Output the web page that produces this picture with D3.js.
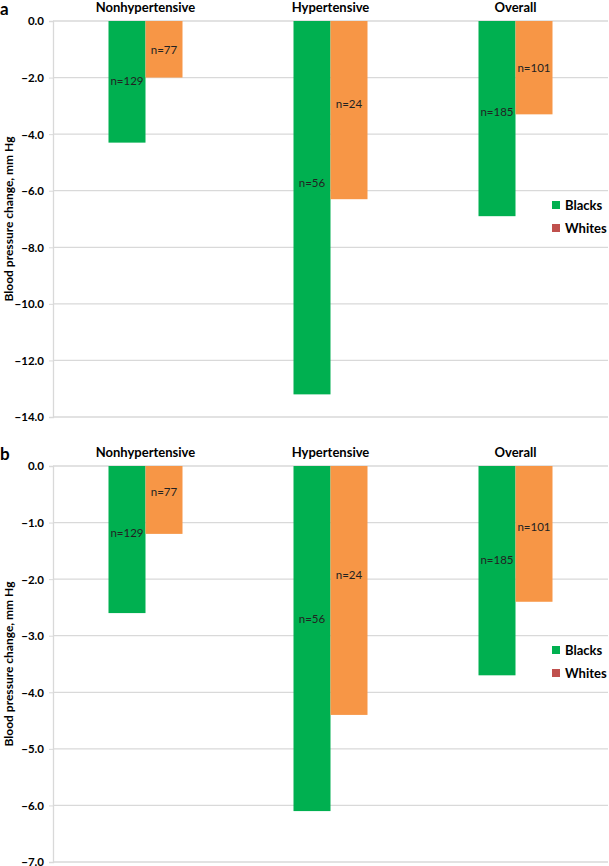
<!DOCTYPE html>
<html>
<head>
<meta charset="utf-8">
<script src="https://cdn.jsdelivr.net/npm/d3@7"></script>
<style>
  body { margin: 0; background: #fff; }
  text { font-family: Lato, "Open Sans", sans-serif; }
</style>
</head>
<body>
<div id="chart"></div>
<script>
// datos
var groups = ["Nonhypertensive", "Hypertensive", "Overall"];
var seriesNames = ["Blacks", "Whites"];

// panel a (systolic)
var aBlacks = [-4.3, -13.2, -6.9];
var aWhites = [-2.0, -6.3, -3.3];
var aTicks = [0, -2, -4, -6, -8, -10, -12, -14];
var aBlacksLabelAt = [-2.1, -5.7, -3.2];
var aWhitesLabelAt = [-1.0, -2.9, -1.65];

// panel b (diastolic)
var bBlacks = [-2.6, -6.1, -3.7];
var bWhites = [-1.2, -4.4, -2.4];
var bTicks = [0, -1, -2, -3, -4, -5, -6, -7];
var bBlacksLabelAt = [-1.17, -2.7, -1.66];
var bWhitesLabelAt = [-0.45, -1.92, -1.07];

var blacksN = ["n=129", "n=56", "n=185"];
var whitesN = ["n=77", "n=24", "n=101"];

var colors = {Blacks: "#00B050", Whites: "#F79646"};
var legendColors = {Blacks: "#00B050", Whites: "#C0504D"};

var W = 609, H = 866;
var svg = d3.select("#chart").append("svg")
    .attr("width", W)
    .attr("height", H);

var x = d3.scaleBand().domain(groups).range([53, 608]).paddingInner(0.6).paddingOuter(0.3);
var xs = d3.scaleBand().domain(seriesNames).range([0, x.bandwidth()]);

function drawPanel(top, letter, blacks, whites, ticks, blacksAt, whitesAt) {
    var y = d3.scaleLinear().domain([0, d3.min(ticks)]).range([top, top + 396]);
    var g = svg.append("g");

    // grid
    g.selectAll(".grid").data(ticks).enter().append("line")
        .attr("x1", 53).attr("x2", 608)
        .attr("y1", d => y(d)).attr("y2", d => y(d))
        .attr("stroke", "#d9d9d9").attr("stroke-width", 1.3);

    // eje y
    var axis = g.append("g")
        .attr("transform", "translate(53,0)")
        .call(d3.axisLeft(y).tickValues(ticks).tickFormat(d3.format(".1f")).tickSizeOuter(0).tickSize(4).tickPadding(5));
    axis.select(".domain").attr("stroke", "#d9d9d9").attr("stroke-width", 1.3);
    axis.selectAll(".tick line").attr("stroke", "#d9d9d9");
    axis.selectAll(".tick text")
        .attr("font-family", "Lato, sans-serif")
        .attr("font-size", 11.5).attr("font-weight", "bold").attr("fill", "#000")
        .attr("dy", "0.34em");

    g.append("text")
        .attr("transform", "translate(8," + (top + 198) + ") rotate(-90)")
        .attr("text-anchor", "middle")
        .attr("dominant-baseline", "central")
        .attr("font-size", 12).attr("font-weight", "bold")
        .text("Blood pressure change, mm Hg");

    g.append("text")
        .attr("x", 0).attr("y", top - 6)
        .attr("font-size", 17).attr("font-weight", "bold")
        .text(letter);

    // titulos de grupo
    g.selectAll(".gt").data(groups).enter().append("text")
        .attr("x", d => x(d) + x.bandwidth() / 2)
        .attr("y", top - 14)
        .attr("text-anchor", "middle")
        .attr("dominant-baseline", "central")
        .attr("font-size", 13).attr("font-weight", "bold")
        .text(d => d);

    var rows = [];
    groups.forEach(function(grp, i) {
        rows.push({group: grp, series: "Blacks", value: blacks[i], n: blacksN[i], at: blacksAt[i]});
        rows.push({group: grp, series: "Whites", value: whites[i], n: whitesN[i], at: whitesAt[i]});
    });

    g.selectAll(".bar").data(rows).enter().append("rect")
        .attr("x", d => x(d.group) + xs(d.series))
        .attr("y", y(0))
        .attr("width", xs.bandwidth())
        .attr("height", d => y(d.value) - y(0))
        .attr("fill", d => colors[d.series]);

    g.selectAll(".lbl").data(rows).enter().append("text")
        .attr("x", d => x(d.group) + xs(d.series) + xs.bandwidth() / 2)
        .attr("y", d => y(d.at))
        .attr("text-anchor", "middle")
        .attr("dominant-baseline", "central")
        .attr("font-size", 11.5).attr("fill", "#222")
        .text(d => d.n);

    // leyenda
    var leg = g.selectAll(".leg").data(seriesNames).enter().append("g")
        .attr("transform", (d, i) => "translate(552," + (top + 184 + i * 23) + ")");
    leg.append("rect")
        .attr("x", 0).attr("y", -4).attr("width", 8).attr("height", 8)
        .attr("fill", d => legendColors[d]);
    leg.append("text")
        .attr("x", 13).attr("y", 0)
        .attr("dominant-baseline", "central")
        .attr("font-size", 13).attr("font-weight", "bold")
        .text(d => d);
}

drawPanel(21, "a", aBlacks, aWhites, aTicks, aBlacksLabelAt, aWhitesLabelAt);
drawPanel(466, "b", bBlacks, bWhites, bTicks, bBlacksLabelAt, bWhitesLabelAt);
</script>
</body>
</html>
